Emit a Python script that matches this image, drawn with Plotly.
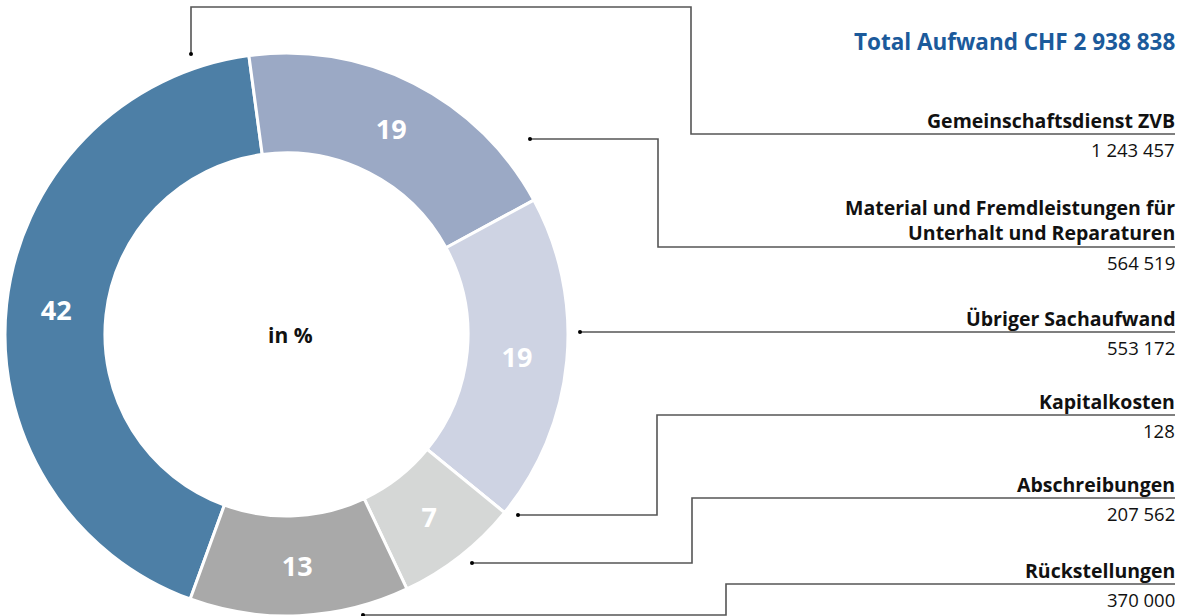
import plotly.graph_objects as go

W, H = 1184, 616

categories = ["Gemeinschaftsdienst ZVB",
              "Material und Fremdleistungen für<br>Unterhalt und Reparaturen",
              "Übriger Sachaufwand", "Kapitalkosten", "Abschreibungen", "Rückstellungen"]
values = [1243457, 564519, 553172, 128, 207562, 370000]
value_labels = ["1 243 457", "564 519", "553 172", "128", "207 562", "370 000"]
colors = ["#4D7FA6", "#9BA9C5", "#CED3E3", "#C8CDDC", "#D5D7D6", "#A9A9A9"]
title_text = "Total Aufwand CHF 2 938 838"

total = sum(values)
pct_text = [str(round(v / total * 100)) if round(v / total * 100) > 0 else "" for v in values]

FONT = "Open Sans"

fig = go.Figure(go.Pie(
    labels=[c.replace("<br>", " ") for c in categories],
    values=values,
    text=pct_text,
    textinfo="text",
    textposition="inside",
    insidetextorientation="horizontal",
    textfont=dict(family=FONT, size=27, color="white", weight="bold"),
    marker=dict(colors=colors, line=dict(color="white", width=3)),
    hole=0.645,
    sort=False,
    direction="clockwise",
    rotation=-160,
    domain=dict(x=[5 / W, 568 / W], y=[0, 563 / H]),
    showlegend=False,
))


def px(x):
    return x / W


def py(y):
    return 1 - y / H


shapes = []
annotations = []
LINE = dict(color="#555555", width=1.6)


def path(points):
    d = "M " + " L ".join(f"{px(x)},{py(y)}" for x, y in points)
    shapes.append(dict(type="path", path=d, xref="paper", yref="paper", line=LINE))
    x0, y0 = points[0]
    shapes.append(dict(type="circle", xref="paper", yref="paper",
                       x0=px(x0 - 2), x1=px(x0 + 2), y0=py(y0 + 2), y1=py(y0 - 2),
                       fillcolor="black", line=dict(width=0)))


RIGHT = 1175
# connector routes (pixel space)
routes = [
    [(191, 54), (191, 7), (691, 7), (691, 134), (RIGHT, 134)],
    [(530, 139), (658, 139), (658, 247), (RIGHT, 247)],
    [(580, 332), (RIGHT, 332)],
    [(518, 515), (657, 515), (657, 415), (RIGHT, 415)],
    [(472, 563), (692, 563), (692, 498), (RIGHT, 498)],
    [(363, 615), (726, 615), (726, 584), (RIGHT, 584)],
]
for r in routes:
    path(r)

for r, cat, val in zip(routes, categories, value_labels):
    yline = r[-1][1]
    annotations.append(dict(x=px(RIGHT + 2), y=py(yline + 1.5), xref="paper", yref="paper",
                            text=cat, showarrow=False, xanchor="right", yanchor="bottom",
                            align="right",
                            font=dict(family=FONT, size=19.5, color="#111111", weight="bold")))
    annotations.append(dict(x=px(RIGHT + 2), y=py(yline + 0.5), xref="paper", yref="paper",
                            text=val, showarrow=False, xanchor="right", yanchor="top",
                            font=dict(family=FONT, size=18.5, color="#111111")))

annotations.append(dict(x=px(RIGHT + 2), y=py(41), xref="paper", yref="paper",
                        text=title_text, showarrow=False, xanchor="right", yanchor="middle",
                        font=dict(family=FONT, size=22.5, color="#1B5A9B", weight="bold")))
annotations.append(dict(x=px(290), y=py(335), xref="paper", yref="paper",
                        text="in %", showarrow=False, xanchor="center", yanchor="middle",
                        font=dict(family=FONT, size=21, color="#111111", weight="bold")))

fig.update_layout(
    width=W, height=H,
    margin=dict(l=0, r=0, t=0, b=0),
    paper_bgcolor="white", plot_bgcolor="white",
    shapes=shapes, annotations=annotations,
)

fig.write_html("out.html", config={"displayModeBar": False},
               post_script="document.body.style.margin='0px';document.body.style.overflow='hidden';")
